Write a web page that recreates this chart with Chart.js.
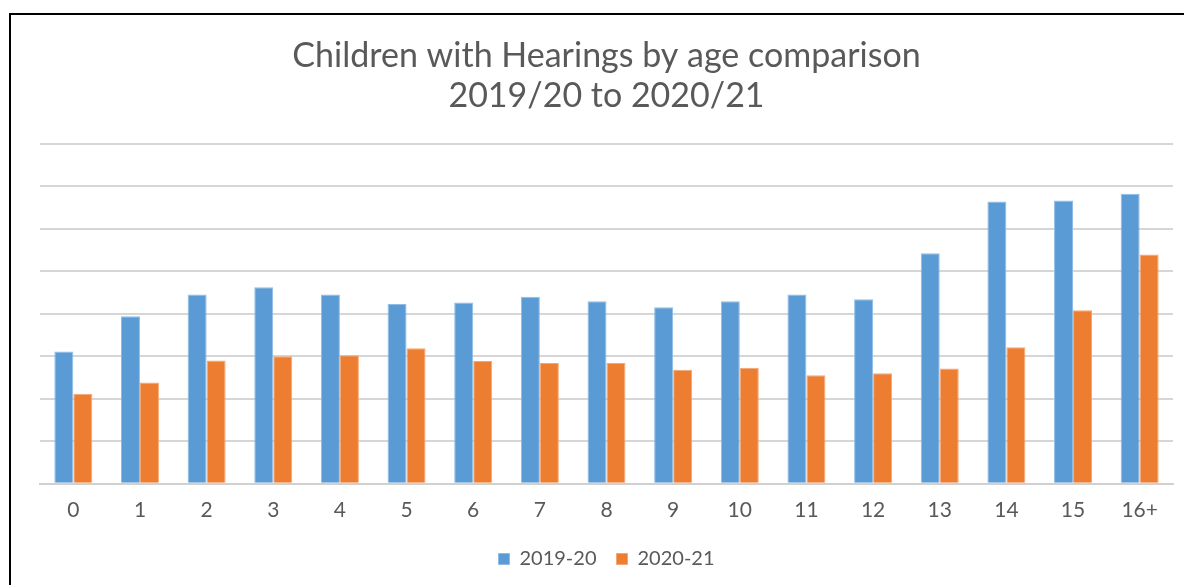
<!DOCTYPE html>
<html>
<head>
<meta charset="utf-8">
<script src="https://cdn.jsdelivr.net/npm/chart.js@4.4.1/dist/chart.umd.min.js"></script>
<style>
  html, body { margin: 0; padding: 0; background: #fff; }
  body { width: 1184px; height: 585px; overflow: hidden; position: relative; }
  #frame { position: absolute; left: 9px; top: 13px; width: 1200px; height: 600px;
           border-left: 2px solid #000; border-top: 2px solid #000; }
  #chartContainer { position: absolute; left: 0; top: 0; }
</style>
</head>
<body>
<div id="frame"></div>
<canvas id="chartContainer" width="1184" height="585"></canvas>
<script>
// ages on the x axis
const ages = ['0', '1', '2', '3', '4', '5', '6', '7', '8', '9', '10', '11', '12', '13', '14', '15', '16+'];
// (no axis values shown, gridline step = 100)
const hearings1920 = [311, 394, 445, 462, 445, 423, 426, 440, 429, 415, 429, 445, 434, 542, 664, 666, 682];
const hearings2021 = [212, 238, 290, 300, 302, 319, 289, 284, 284, 268, 273, 255, 260, 271, 321, 408, 539];

const blueColor = '#5b9bd5';
const orangeColor = '#ed7d31';
const textColor = '#595959';
const fontName = 'Lato, "Open Sans", sans-serif';

const chart = new Chart(document.getElementById('chartContainer'), {
    type: 'bar',
    data: {
        labels: ages,
        datasets: [
            { label: '2019-20', data: hearings1920, backgroundColor: blueColor, borderColor: '#8fbde6', borderWidth: 1 },
            { label: '2020-21', data: hearings2021, backgroundColor: orangeColor, borderColor: '#f4a774', borderWidth: 1 }
        ]
    },
    options: {
        responsive: false,
        animation: false,
        devicePixelRatio: 1,
        categoryPercentage: 0.57,
        barPercentage: 1,
        layout: { padding: { left: 40, right: 11, top: 0, bottom: 6 } },
        plugins: {
            title: {
                display: true,
                text: ['Children with Hearings by age comparison', '2019/20 to 2020/21'],
                color: textColor,
                font: { family: fontName, size: 34, weight: 'normal', lineHeight: 1.17 },
                padding: { top: 36, bottom: 28 }
            },
            legend: {
                position: 'bottom',
                labels: {
                    color: textColor,
                    font: { family: fontName, size: 20 },
                    boxWidth: 11,
                    boxHeight: 11,
                    padding: 20
                }
            },
            tooltip: { enabled: false }
        },
        scales: {
            x: {
                grid: { display: false },
                border: { display: true, color: '#d0d0d0', width: 2 },
                ticks: { color: textColor, font: { family: fontName, size: 21 }, padding: 6 }
            },
            y: {
                min: 0,
                max: 800,
                ticks: { display: false, stepSize: 100 },
                grid: { color: '#d6d6d6', lineWidth: 2, drawTicks: false },
                border: { display: false }
            }
        }
    }
});
</script>
</body>
</html>
